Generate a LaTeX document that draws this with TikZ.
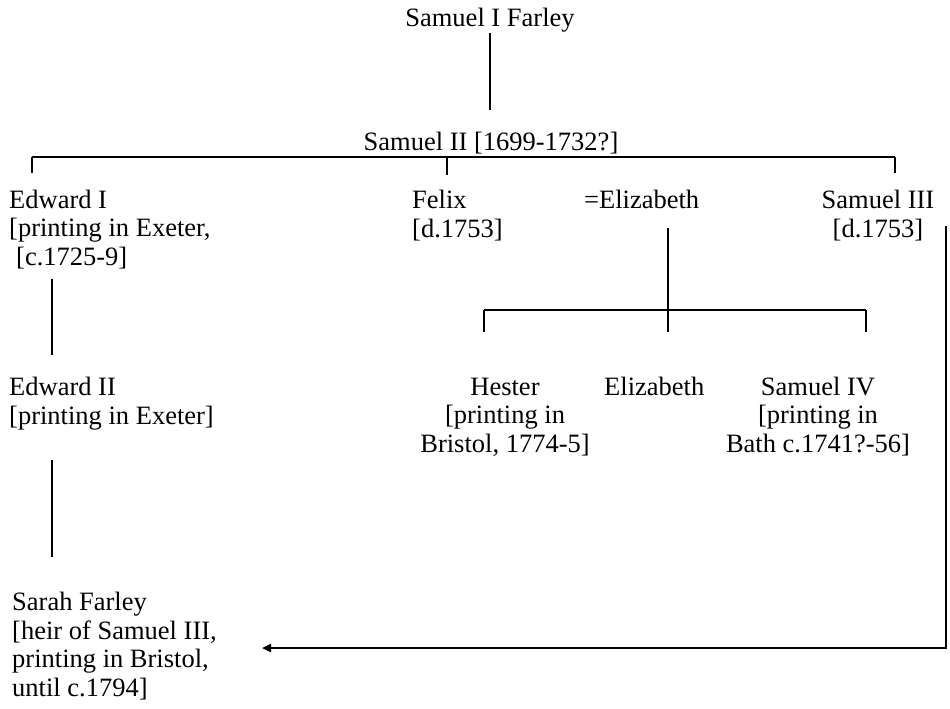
\documentclass[tikz,border=0pt]{standalone}
\usepackage{fontspec}
\setmainfont{Liberation Serif}
\usetikzlibrary{arrows.meta}
\tikzset{
    person/.style = {inner sep=0pt, anchor=base west, align=left, font=\fontsize{26.5}{28.5}\selectfont, text=black},
    personc/.style = {inner sep=0pt, anchor=base, align=center, font=\fontsize{26.5}{28.5}\selectfont, text=black},
    edgen/.style = {-, line width=2pt, black},
    edgeb/.style = {-, line width=2.5pt, black}, % bars
    edgea/.style = {-{Triangle[length=9pt,width=8pt]}, line width=2.5pt, black}, % heir
}

\begin{document}
\begin{tikzpicture}[x=1pt,y=-1pt]
  \useasboundingbox (0,0) rectangle (950,709);
  % people (placed at the baseline of their last line)
  \node[personc] (s1) at (490,27) {Samuel I Farley};
  \node[personc] (s2) at (491,150) {Samuel II [1699-1732?]};
  \node[person] (ed1) at (9,265) {Edward I\\{}[printing in Exeter,\\\hspace*{7pt}[c.1725-9]};
  \node[person] (felix) at (412,237) {Felix\\{}[d.1753]};
  \node[person] (eliz) at (584,208) {=Elizabeth};
  \node[personc] (s3) at (878,237) {Samuel III\\{}[d.1753]};
  \node[person] (ed2) at (9,424) {Edward II\\{}[printing in Exeter]};
  \node[personc] (hester) at (505,452) {Hester\\{}[printing in\\Bristol, 1774-5]};
  \node[person] (eliz2) at (604,395) {Elizabeth};
  \node[personc] (s4) at (818,452) {Samuel IV\\{}[printing in\\Bath c.1741?-56]};
  \node[person] (sarah) at (12,696) {Sarah Farley\\{}[heir of Samuel III,\\printing in Bristol,\\until c.1794]};
  % junctions
  \coordinate (s1d) at (490,33);
  \coordinate (s2u) at (490,110);
  \coordinate (famL) at (32,157);
  \coordinate (famF) at (447,157);
  \coordinate (famR) at (895,157);
  \coordinate (ed1u) at (32,173);
  \coordinate (felixu) at (447,175);
  \coordinate (s3u) at (895,173);
  \coordinate (ed1d) at (52,279);
  \coordinate (ed2u) at (52,355);
  \coordinate (ed2d) at (52,460);
  \coordinate (sarahu) at (52,557);
  \coordinate (elizd) at (668,228);
  \coordinate (kidM) at (668,310);
  \coordinate (kidL) at (484,310);
  \coordinate (kidR) at (866,310);
  \coordinate (hesteru) at (484,332);
  \coordinate (eliz2u) at (668,332);
  \coordinate (s4u) at (866,332);
  \coordinate (s3d) at (946,226);
  \coordinate (heirC) at (946,648);
  \coordinate (sarahr) at (262,648);
  % lines
  \draw[edgen] (s1d) -- (s2u);
  \draw[edgeb] (famL) -- (famR);
  \draw[edgen] (famL) -- (ed1u);
  \draw[edgen] (famF) -- (felixu);
  \draw[edgen] (famR) -- (s3u);
  \draw[edgen] (ed1d) -- (ed2u);
  \draw[edgen] (ed2d) -- (sarahu);
  \draw[edgen] (elizd) -- (eliz2u);
  \draw[edgeb] (kidL) -- (kidR);
  \draw[edgen] (kidL) -- (hesteru);
  \draw[edgen] (kidR) -- (s4u);
  \draw[edgea] (s3d) -- (heirC) -- (sarahr);
\end{tikzpicture}
\end{document}
